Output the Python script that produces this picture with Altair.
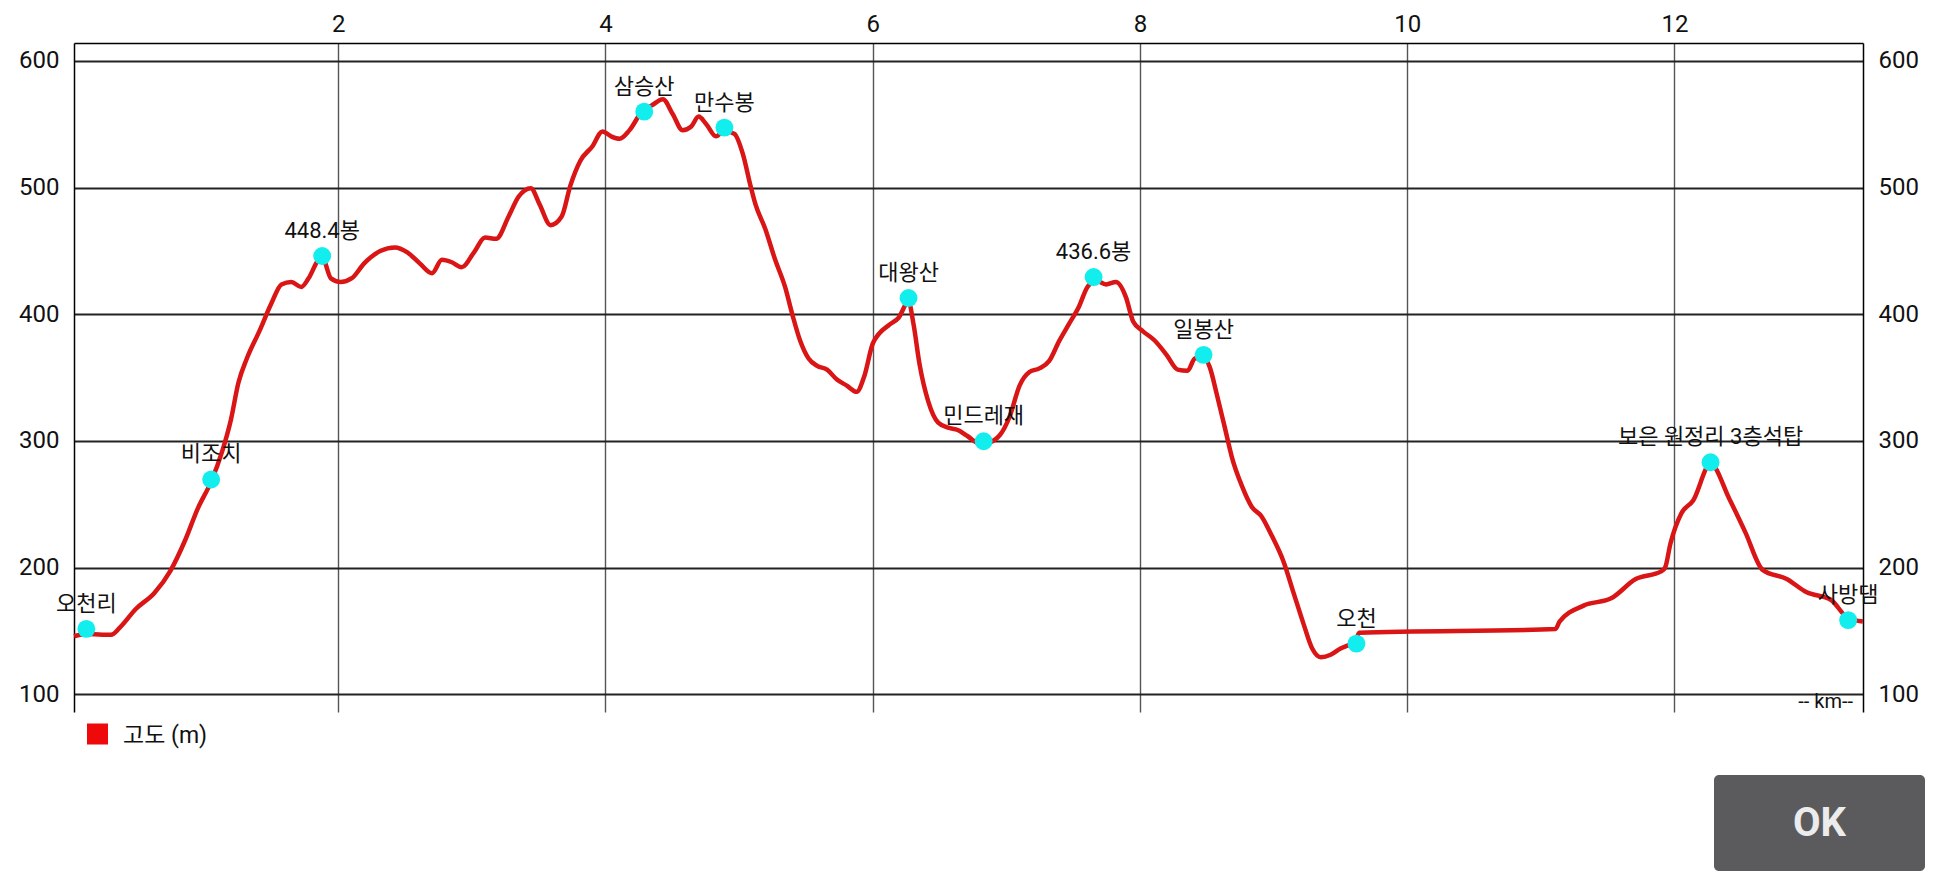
import altair as alt
import pandas as pd

# ---- data ----
km = [0.023, 0.115, 0.30, 0.365, 0.485, 0.624, 0.744, 0.855, 0.947, 1.049, 1.132, 1.196,
      1.252, 1.316, 1.409, 1.501, 1.575, 1.649, 1.723, 1.778, 1.852, 1.88, 1.945, 2.018,
      2.102, 2.194, 2.314, 2.425, 2.517, 2.61, 2.702, 2.776, 2.85, 2.924, 3.016, 3.099,
      3.182, 3.275, 3.349, 3.441, 3.506, 3.589, 3.672, 3.737, 3.811, 3.903, 3.977, 4.042,
      4.106, 4.18, 4.273, 4.346, 4.43, 4.503, 4.577, 4.642, 4.697, 4.753, 4.827, 4.89,
      4.965, 5.03, 5.085, 5.122, 5.196, 5.27, 5.344, 5.40, 5.455, 5.52, 5.584, 5.658,
      5.732, 5.806, 5.88, 5.935, 6.0, 6.046, 6.12, 6.194, 6.268, 6.305, 6.351, 6.416,
      6.49, 6.564, 6.637, 6.711, 6.785, 6.859, 6.952, 7.025, 7.099, 7.173, 7.247, 7.321,
      7.395, 7.469, 7.543, 7.607, 7.672, 7.746, 7.82, 7.894, 7.949, 8.023, 8.106, 8.199,
      8.282, 8.356, 8.411, 8.476, 8.522, 8.577, 8.633, 8.688, 8.762, 8.836, 8.91, 8.984,
      9.076, 9.15, 9.224, 9.289, 9.353, 9.427, 9.501, 9.566, 9.61, 9.64, 11.11, 11.14,
      11.32, 11.53, 11.71, 11.90, 11.93, 11.97, 12.05, 12.14, 12.27, 12.41, 12.53, 12.66,
      12.84, 12.99, 13.17, 13.30, 13.41]
elev = [145.8, 147.5, 147.0, 152.6, 167.3, 180.0, 197.5, 221.8, 246.2, 268.0, 292.0, 316.4,
        345.6, 365.1, 386.5, 408.9, 423.6, 425.5, 421.6, 428.4, 443.0, 445.0, 428.4, 425.5,
        428.5, 440.2, 449.9, 452.8, 448.9, 440.2, 432.4, 443.0, 441.1, 437.2, 448.9, 460.6,
        459.6, 477.2, 492.8, 499.6, 487.0, 470.4, 477.2, 501.6, 521.1, 532.7, 544.4, 540.5,
        538.6, 545.4, 560.0, 564.9, 569.8, 558.1, 545.4, 548.3, 556.1, 550.3, 540.5, 545.0,
        542.5, 525.9, 501.6, 487.0, 467.4, 443.0, 421.6, 399.2, 379.7, 365.1, 359.3, 356.3,
        348.5, 343.7, 338.8, 350.5, 376.8, 384.6, 391.4, 397.3, 410.0, 392.4, 360.2, 331.0,
        314.4, 310.5, 308.6, 303.7, 298.8, 298.8, 304.7, 319.3, 343.7, 354.4, 357.3, 363.2,
        378.8, 392.4, 406.0, 421.6, 426.5, 423.6, 425.5, 413.8, 394.3, 386.5, 379.7, 368.0,
        356.3, 355.4, 365.1, 366.0, 358.3, 335.9, 311.5, 287.1, 264.7, 248.1, 240.4, 225.7,
        204.3, 179.9, 155.6, 136.1, 129.3, 131.2, 136.1, 139.0, 141.0, 148.5, 151.5, 157.4,
        170.0, 176.0, 191.0, 197.0, 200.0, 219.0, 242.6, 253.0, 282.0, 254.4, 228.0, 198.2,
        191.0, 180.5, 174.6, 160.0, 157.4]

wp_names = ["오천리", "비조치", "448.4봉", "삼승산", "만수봉", "대왕산", "민드레재",
            "436.6봉", "일봉산", "오천", "보은 원정리 3층석탑", "사방댐"]
wp_km = [0.115, 1.049, 1.88, 4.29, 4.89, 6.268, 6.83, 7.653, 8.476, 9.62, 12.27, 13.30]
wp_elev = [151.6, 269.6, 446.0, 560.0, 547.4, 412.9, 299.8, 429.4, 368.0, 140.0, 283.2, 158.5]

x_ticks = [2, 4, 6, 8, 10, 12]
y_ticks = [100, 200, 300, 400, 500, 600]
series_name = "고도 (m)"
x_unit = "-- km--"
button_label = "OK"

FONT = "Roboto, 'Noto Sans CJK KR', sans-serif"
W, H = 1789, 669

profile = pd.DataFrame({"km": km, "elev": elev})
waypoints = pd.DataFrame({"km": wp_km, "elev": wp_elev, "name": wp_names})

x_enc = alt.X(
    "km:Q",
    scale=alt.Scale(domain=[0.0225, 13.411], nice=False, zero=False),
    axis=alt.Axis(orient="top", values=x_ticks, grid=True, gridColor="#555555",
                  gridWidth=1.4, ticks=False, domain=True, domainColor="#000000",
                  domainWidth=1.5, labelFontSize=24, labelFont=FONT, labelColor="#111111",
                  labelPadding=7, title=None),
)
y_scale = alt.Scale(domain=[86, 614.2], nice=False, zero=False)

line = alt.Chart(profile).mark_line(
    color="#d91515", strokeWidth=4.5, interpolate="monotone"
).encode(
    x=x_enc,
    y=alt.Y("elev:Q", scale=y_scale,
            axis=alt.Axis(orient="left", values=y_ticks, grid=True, gridColor="#222222",
                          gridWidth=1.8, ticks=False, domain=True, domainColor="#000000",
                          domainWidth=1.5, labelFontSize=24, labelFont=FONT,
                          labelColor="#111111", labelPadding=15, title=None)),
)

points = alt.Chart(waypoints).mark_circle(size=320, color="#12eeee", opacity=1).encode(
    x=x_enc,
    y=alt.Y("elev:Q", scale=y_scale,
            axis=alt.Axis(orient="right", values=y_ticks, grid=False, ticks=False,
                          domain=True, domainColor="#000000", domainWidth=1.5,
                          labelFontSize=24, labelFont=FONT, labelColor="#111111",
                          labelPadding=15, title=None)),
)

labels = alt.Chart(waypoints).mark_text(
    dy=-18, fontSize=22, font=FONT, color="#111111", baseline="alphabetic"
).encode(
    x=x_enc,
    y=alt.Y("elev:Q", scale=y_scale, axis=None),
    text="name:N",
)

one = pd.DataFrame({"t": [series_name]})
legend_sq = alt.Chart(one).mark_square(size=441, color="#ee0a0a", opacity=1).encode(
    x=alt.value(23.5), y=alt.value(691)
)
legend_txt = alt.Chart(one).mark_text(
    align="left", baseline="middle", fontSize=23, font=FONT, color="#111111"
).encode(x=alt.value(49), y=alt.value(693), text="t:N")

unit_txt = alt.Chart(pd.DataFrame({"t": [x_unit]})).mark_text(
    align="right", baseline="middle", fontSize=20, font=FONT, color="#111111"
).encode(x=alt.value(1779), y=alt.value(659), text="t:N")

btn = alt.Chart(pd.DataFrame({"t": [button_label]})).mark_rect(
    cornerRadius=5, color="#5b5b5d"
).encode(x=alt.value(1640), x2=alt.value(1851), y=alt.value(732), y2=alt.value(828))
btn_txt = alt.Chart(pd.DataFrame({"t": [button_label]})).mark_text(
    align="center", baseline="middle", fontSize=40, fontWeight="bold", font=FONT,
    color="#ececec"
).encode(x=alt.value(1745.5), y=alt.value(781), text="t:N")

chart = alt.layer(
    line, points, labels, legend_sq, legend_txt, unit_txt, btn, btn_txt
).resolve_scale(y="shared").resolve_axis(y="independent").properties(
    width=W, height=H,
    autosize=alt.AutoSizeParams(type="none"),
    padding={"left": 66, "top": 35, "right": 64, "bottom": 170},
    background="#ffffff",
).configure_view(stroke=None)

chart.save("out.html", embed_options={"renderer": "svg", "actions": False})
